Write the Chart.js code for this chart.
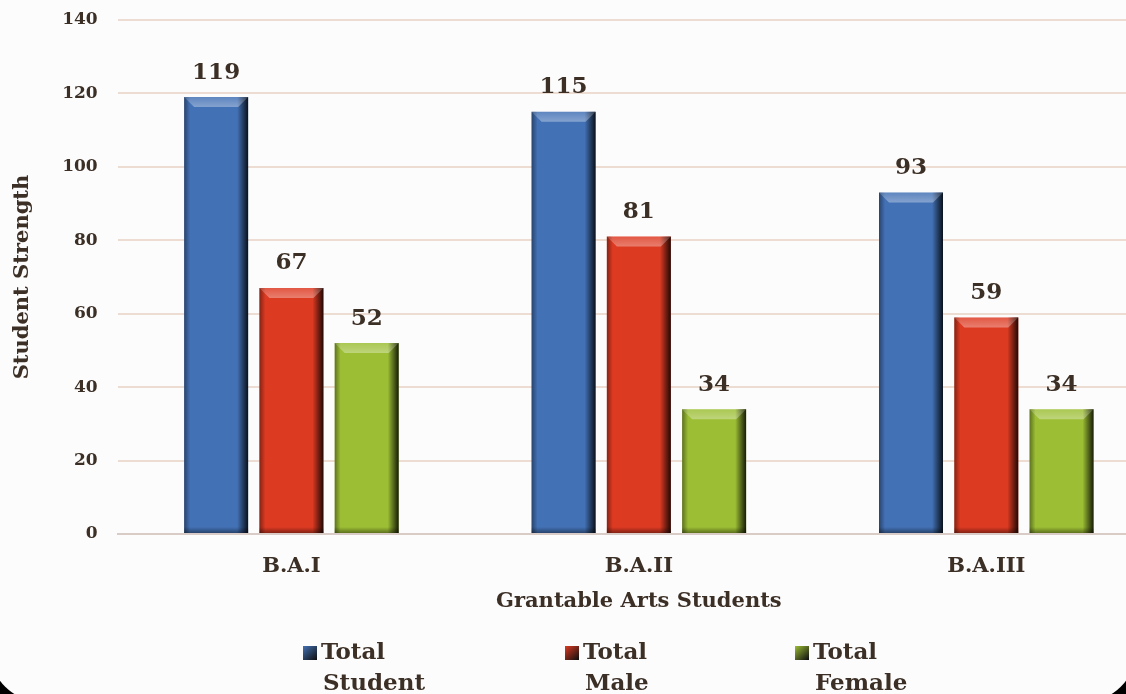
<!DOCTYPE html>
<html>
<head>
<meta charset="utf-8">
<script src="https://cdn.jsdelivr.net/npm/chart.js@4.4.1/dist/chart.umd.min.js"></script>
<style>
    html, body { margin: 0; padding: 0; background: #000; overflow: hidden; width: 1126px; height: 694px; }
    #frame {
        position: absolute; left: -10px; top: -80px; width: 1146px; height: 782px;
        background: #fdfcfc; border-radius: 52px; overflow: hidden;
    }
    #chart { position: absolute; left: 10px; top: 80px; }
</style>
</head>
<body>
<div id="frame">
    <canvas id="chart" width="1160" height="694"></canvas>
</div>
<script>
// Data
const categories = ['B.A.I', 'B.A.II', 'B.A.III'];
const seriesNames = [['Total', 'Student'], ['Total', 'Male'], ['Total', 'Female']];
const totalStudent = [119, 115, 93];
const totalMale = [67, 81, 59];
const totalFemale = [52, 34, 34];
const yTicks = [0, 20, 40, 60, 80, 100, 120, 140];

const textColor = '#3b2f26';
const serif = "'DejaVu Serif', serif";
const barColors = ['#4371b5', '#dd3a22', '#9cbe34'];

// Bevel / shading on each bar
const bevelPlugin = {
    id: 'bevel',
    afterDatasetsDraw(chart) {
        const ctx = chart.ctx;
        chart.data.datasets.forEach((ds, di) => {
            chart.getDatasetMeta(di).data.forEach(bar => {
                const p = bar.getProps(['x', 'y', 'base', 'width'], true);
                const l = p.x - p.width / 2, r = p.x + p.width / 2;
                const t = p.y, b = p.base;
                ctx.save();
                // right dark edge
                let g = ctx.createLinearGradient(r - 11, 0, r, 0);
                g.addColorStop(0, 'rgba(0,0,0,0)');
                g.addColorStop(1, 'rgba(0,0,0,0.85)');
                ctx.fillStyle = g;
                ctx.fillRect(r - 11, t, 11, b - t);
                // left soft edge
                g = ctx.createLinearGradient(l, 0, l + 6, 0);
                g.addColorStop(0, 'rgba(0,0,0,0.4)');
                g.addColorStop(1, 'rgba(0,0,0,0)');
                ctx.fillStyle = g;
                ctx.fillRect(l, t, 6, b - t);
                // top bevel
                ctx.beginPath();
                ctx.moveTo(l, t);
                ctx.lineTo(r, t);
                ctx.lineTo(r - 10, t + 10);
                ctx.lineTo(l + 10, t + 10);
                ctx.closePath();
                g = ctx.createLinearGradient(0, t, 0, t + 10);
                g.addColorStop(0, 'rgba(255,255,255,0.15)');
                g.addColorStop(1, 'rgba(255,255,255,0.35)');
                ctx.fillStyle = g;
                ctx.fill();
                // bottom shade
                g = ctx.createLinearGradient(0, b - 6, 0, b);
                g.addColorStop(0, 'rgba(0,0,0,0)');
                g.addColorStop(1, 'rgba(0,0,0,0.4)');
                ctx.fillStyle = g;
                ctx.fillRect(l, b - 6, p.width, 6);
                ctx.restore();
            });
        });
    }
};

// Value labels above bars
const valueLabels = {
    id: 'valueLabels',
    afterDatasetsDraw(chart) {
        const ctx = chart.ctx;
        ctx.save();
        ctx.font = 'bold 23px ' + serif;
        ctx.fillStyle = textColor;
        ctx.textAlign = 'center';
        ctx.textBaseline = 'bottom';
        chart.data.datasets.forEach((ds, di) => {
            chart.getDatasetMeta(di).data.forEach((bar, i) => {
                ctx.fillText(ds.data[i], bar.x, bar.y - 13);
            });
        });
        ctx.restore();
    }
};

// Bottom legend with two-line labels
const bottomLegend = {
    id: 'bottomLegend',
    afterDraw(chart) {
        const ctx = chart.ctx;
        const xs = [303, 565, 795];
        ctx.save();
        ctx.font = 'bold 23px ' + serif;
        ctx.textBaseline = 'middle';
        chart.data.datasets.forEach((ds, i) => {
            const x = xs[i], y = 653;
            const g = ctx.createLinearGradient(x, y - 7, x + 13, y + 7);
            g.addColorStop(0, ds.backgroundColor);
            g.addColorStop(1, '#111');
            ctx.fillStyle = g;
            ctx.fillRect(x, y - 7, 14, 14);
            ctx.fillStyle = textColor;
            ctx.textAlign = 'left';
            ctx.fillText(ds.label[0], x + 18, y);
            ctx.fillText(ds.label[1], x + 20, y + 31);
        });
        ctx.restore();
    }
};

const ctx = document.getElementById('chart').getContext('2d');
new Chart(ctx, {
    type: 'bar',
    data: {
        labels: categories,
        datasets: [
            { label: seriesNames[0], data: totalStudent, backgroundColor: barColors[0] },
            { label: seriesNames[1], data: totalMale, backgroundColor: barColors[1] },
            { label: seriesNames[2], data: totalFemale, backgroundColor: barColors[2] }
        ]
    },
    options: {
        responsive: false,
        animation: false,
        layout: { padding: { left: 10, top: 20, right: 0, bottom: 80 } },
        datasets: {
            bar: { barPercentage: 0.85, categoryPercentage: 0.65 }
        },
        plugins: {
            legend: { display: false },
            tooltip: { enabled: false }
        },
        scales: {
            y: {
                min: 0,
                max: 140,
                afterBuildTicks: axis => { axis.ticks = yTicks.map(v => ({ value: v })); },
                afterFit: axis => { axis.paddingTop = 0; axis.paddingBottom = 0; },
                grid: { color: '#ecdcd2', lineWidth: 2, drawTicks: false },
                border: { display: false },
                ticks: {
                    color: textColor,
                    padding: 20,
                    font: { family: serif, size: 17, weight: 'bold' }
                },
                title: {
                    display: true,
                    text: 'Student Strength',
                    color: textColor,
                    padding: { top: 0, bottom: 7 },
                    font: { family: serif, size: 21, weight: 'bold' }
                }
            },
            x: {
                afterFit: axis => { axis.height = 80; },
                grid: { display: false, drawTicks: false },
                border: { display: true, color: '#d9ccc6', width: 2 },
                ticks: {
                    color: textColor,
                    padding: 20,
                    font: { family: serif, size: 21, weight: 'bold' }
                },
                title: {
                    display: true,
                    text: 'Grantable Arts Students',
                    color: textColor,
                    padding: { top: 0, bottom: 0 },
                    font: { family: serif, size: 21, weight: 'bold' }
                }
            }
        }
    },
    plugins: [bevelPlugin, valueLabels, bottomLegend]
});
</script>
</body>
</html>
